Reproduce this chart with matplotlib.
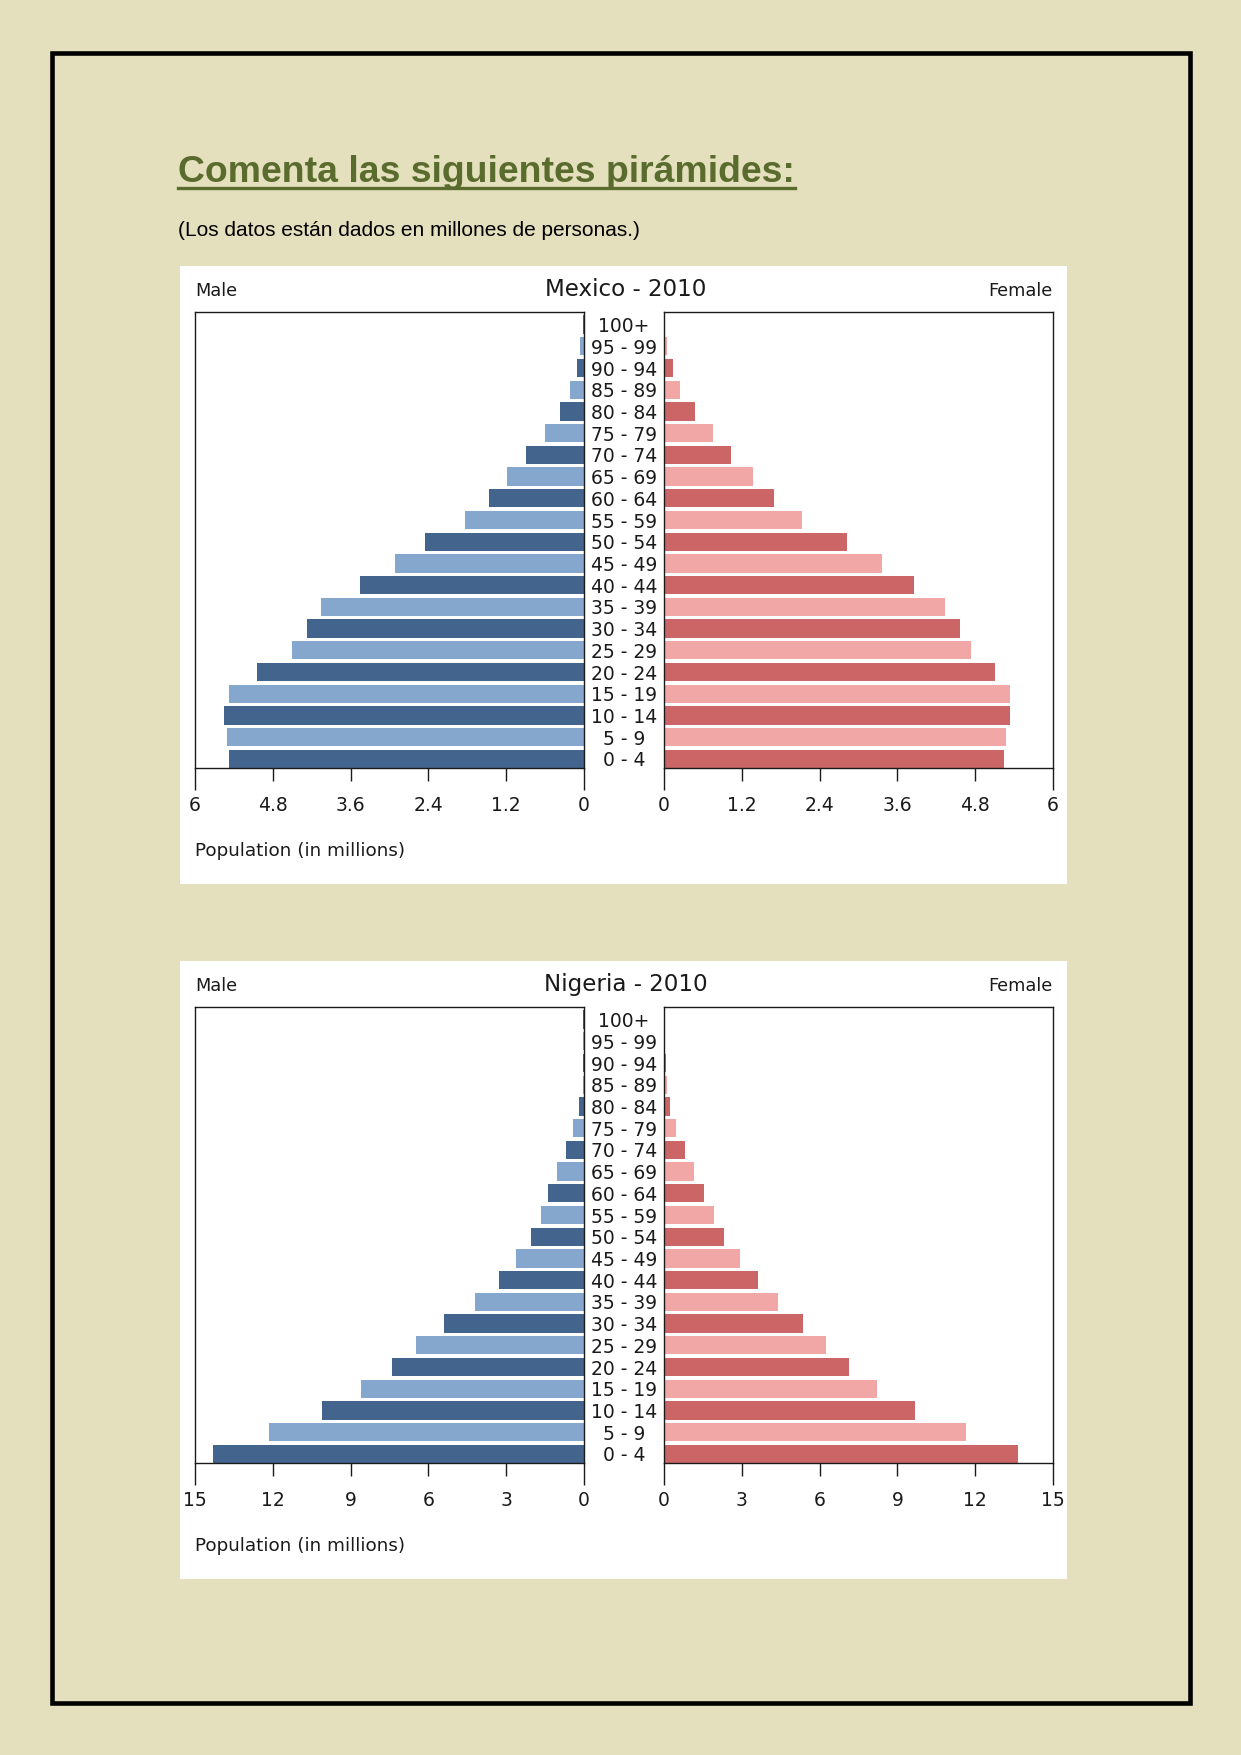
import matplotlib
matplotlib.use('Agg')
import matplotlib.pyplot as plt
import matplotlib.transforms as mtransforms
from matplotlib.patches import Rectangle
from matplotlib.lines import Line2D

# age groups, bottom to top
age_groups = ['0 - 4', '5 - 9', '10 - 14', '15 - 19', '20 - 24', '25 - 29',
              '30 - 34', '35 - 39', '40 - 44', '45 - 49', '50 - 54', '55 - 59',
              '60 - 64', '65 - 69', '70 - 74', '75 - 79', '80 - 84', '85 - 89',
              '90 - 94', '95 - 99', '100+']

# Mexico 2010, millions
mexico_male = [5.47, 5.50, 5.56, 5.47, 5.05, 4.51, 4.27, 4.06, 3.46, 2.92, 2.45,
               1.84, 1.47, 1.18, 0.89, 0.60, 0.37, 0.21, 0.11, 0.056, 0.02]
mexico_female = [5.25, 5.27, 5.34, 5.34, 5.10, 4.74, 4.56, 4.33, 3.86, 3.37, 2.83,
                 2.13, 1.69, 1.37, 1.04, 0.75, 0.48, 0.25, 0.14, 0.05, 0.02]
mexico_ticks = [0, 1.2, 2.4, 3.6, 4.8, 6]
mexico_tick_labels = ['0', '1.2', '2.4', '3.6', '4.8', '6']

# Nigeria 2010, millions
nigeria_male = [14.29, 12.16, 10.09, 8.58, 7.42, 6.46, 5.39, 4.22, 3.27, 2.61, 2.04,
                1.64, 1.37, 1.03, 0.69, 0.41, 0.19, 0.05, 0.04, 0.03, 0.04]
nigeria_female = [13.64, 11.66, 9.67, 8.20, 7.13, 6.23, 5.35, 4.40, 3.61, 2.93, 2.33,
                  1.93, 1.54, 1.14, 0.81, 0.46, 0.24, 0.13, 0.06, 0.04, 0.05]
nigeria_ticks = [0, 3, 6, 9, 12, 15]
nigeria_tick_labels = ['0', '3', '6', '9', '12', '15']

BG = '#E4DFBC'
MALE_DARK, MALE_LIGHT = '#43648C', '#86A7CD'
FEMALE_DARK, FEMALE_LIGHT = '#CC6666', '#F2A7A7'
TXT = '#1a1a1a'
W, H = 1241, 1755

fig = plt.figure(figsize=(W / 100, H / 100), dpi=100, facecolor=BG)


def fx(x):
    return x / W


def fy(y):
    return 1 - y / H


def rect(x0, y0, x1, y1):
    return [fx(x0), fy(y1), (x1 - x0) / W, (y1 - y0) / H]


# page frame
fig.add_artist(Rectangle((fx(52), fy(1703)), (1189.5 - 52) / W, (1703 - 52.5) / H,
                         fill=False, lw=3.3, ec='black', transform=fig.transFigure))

title = fig.text(fx(178), fy(182), 'Comenta las siguientes pirámides:',
                 family='Liberation Sans', weight='bold', fontsize=26.9,
                 color='#5A6B2E', va='baseline')
fig.text(fx(178), fy(236), '(Los datos están dados en millones de personas.)',
         family='Liberation Sans', fontsize=15, color='black', va='baseline')


def style_axis(ax, ticks, labels):
    ax.set_ylim(-0.42, 20.58)
    ax.set_yticks([])
    ax.set_xticks([ticks[0], ticks[-1]], [labels[0], labels[-1]])
    ax.set_xticks(ticks[1:-1], labels[1:-1], minor=True)
    ax.tick_params(axis='x', which='major', length=15.8, width=1, pad=4.5,
                   labelsize=13.5, colors=TXT)
    ax.tick_params(axis='x', which='minor', length=9.4, width=1, pad=11,
                   labelsize=13.5, colors=TXT)
    for s in ax.spines.values():
        s.set_linewidth(1.0)
        s.set_color(TXT)


def draw_pyramid(top, name, male, female, ticks, labels):
    xmax = ticks[-1]
    fig.add_artist(Rectangle((fx(180), fy(top + 618)), (1067 - 180) / W, 618 / H,
                             fc='white', ec='none', zorder=-10,
                             transform=fig.transFigure))
    ax_t = top + 46
    ax_b = ax_t + 456
    ax_m = fig.add_axes(rect(195, ax_t, 584, ax_b))
    ax_f = fig.add_axes(rect(664, ax_t, 1053, ax_b))
    ys = list(range(len(age_groups)))
    mc = [MALE_DARK if i % 2 == 0 else MALE_LIGHT for i in ys]
    fc = [FEMALE_DARK if i % 2 == 0 else FEMALE_LIGHT for i in ys]
    ax_m.barh(ys, male, height=0.845, color=mc)
    ax_f.barh(ys, female, height=0.845, color=fc)
    ax_m.set_xlim(xmax, 0)
    ax_f.set_xlim(0, xmax)
    style_axis(ax_m, ticks, labels)
    style_axis(ax_f, ticks, labels)

    trans = mtransforms.blended_transform_factory(fig.transFigure, ax_m.transData)
    for i, lab in enumerate(age_groups):
        ax_m.text(fx(624), i, lab, transform=trans, ha='center',
                  va='center_baseline', fontsize=13.5, color=TXT, clip_on=False)

    base = ax_t - 16
    fig.text(fx(195), fy(base), 'Male', fontsize=12.8, color=TXT, va='baseline')
    fig.text(fx(1053), fy(base), 'Female', fontsize=12.8, color=TXT,
             va='baseline', ha='right')
    fig.text(fx(626), fy(base), name, fontsize=16.6, color=TXT,
             va='baseline', ha='center')
    fig.text(fx(195), fy(ax_b + 88), 'Population (in millions)', fontsize=13.2,
             color=TXT, va='baseline')


draw_pyramid(266, 'Mexico - 2010', mexico_male, mexico_female,
             mexico_ticks, mexico_tick_labels)
draw_pyramid(961, 'Nigeria - 2010', nigeria_male, nigeria_female,
             nigeria_ticks, nigeria_tick_labels)

# underline for the heading
fig.canvas.draw()
bb = title.get_window_extent(fig.canvas.get_renderer())
fig.add_artist(Line2D([bb.x0 / W, bb.x1 / W], [fy(188), fy(188)], lw=2.4,
                      color='#5A6B2E', transform=fig.transFigure))

fig.savefig('out.png', dpi=100, facecolor=BG)
